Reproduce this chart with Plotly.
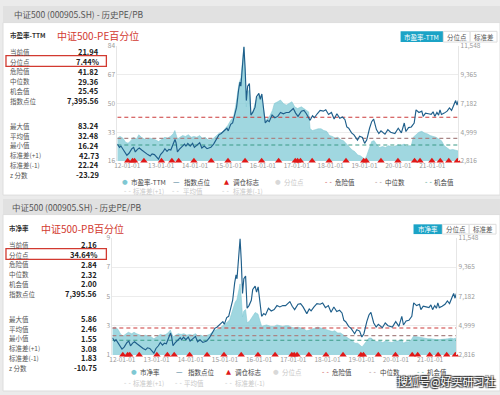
import plotly.graph_objects as go

# ---------------- data ----------------
idx_dates = ["2011-09-16","2011-10-10","2011-10-25","2011-11-15","2011-12-10","2011-12-28",
"2012-01-20","2012-02-20","2012-03-10","2012-03-28","2012-04-20","2012-05-10","2012-06-05","2012-07-10",
"2012-08-10","2012-09-05","2012-09-25","2012-10-20","2012-11-15","2012-12-03","2012-12-25",
"2013-01-20","2013-02-10","2013-03-05","2013-03-25","2013-04-15","2013-05-10","2013-05-30","2013-06-10",
"2013-06-25","2013-07-15","2013-08-10","2013-09-10","2013-09-25","2013-10-15","2013-11-10","2013-12-05","2013-12-25",
"2014-01-20","2014-02-20","2014-03-15","2014-04-10","2014-05-10","2014-05-25","2014-06-20","2014-07-20",
"2014-08-20","2014-09-15","2014-10-10","2014-11-10","2014-12-10","2014-12-25",
"2015-01-20","2015-02-10","2015-03-05","2015-03-25","2015-04-15","2015-04-30","2015-05-10","2015-05-25",
"2015-06-12","2015-06-25","2015-07-08","2015-07-22","2015-08-10","2015-08-26","2015-09-15","2015-10-10",
"2015-10-25","2015-11-20","2015-12-05","2015-12-22",
"2016-01-15","2016-01-28","2016-02-20","2016-03-10","2016-04-10","2016-05-10","2016-06-10","2016-07-10",
"2016-08-10","2016-09-10","2016-10-10","2016-11-10","2016-11-25","2016-12-20",
"2017-01-15","2017-02-20","2017-03-20","2017-04-15","2017-05-10","2017-05-25","2017-06-20","2017-07-10",
"2017-08-10","2017-09-10","2017-10-15","2017-11-10","2017-12-10",
"2018-01-10","2018-02-08","2018-03-10","2018-04-10","2018-05-10","2018-06-05","2018-06-25","2018-07-15",
"2018-08-15","2018-09-10","2018-10-18","2018-11-10","2018-12-10",
"2019-01-03","2019-01-25","2019-02-25","2019-03-20","2019-04-10","2019-05-10","2019-06-05","2019-06-28",
"2019-08-10","2019-09-10","2019-10-10","2019-11-25","2019-12-31",
"2020-02-03","2020-03-05","2020-03-23","2020-04-20","2020-05-20","2020-06-20","2020-07-10","2020-08-10",
"2020-09-10","2020-09-25","2020-10-20","2020-11-20","2020-12-20",
"2021-01-10","2021-01-28","2021-02-20","2021-03-10","2021-03-25","2021-04-10","2021-05-10","2021-06-10",
"2021-07-05","2021-07-28","2021-08-20","2021-09-10","2021-09-25","2021-10-08"]
idx_values = [4100,3850,3950,3700,3400,3250,
3400,3750,3850,3500,3700,3800,3650,3450,
3300,3200,3350,3300,3100,2950,3300,
3500,3750,3550,3700,3650,4100,4450,4200,
3500,3700,3850,4100,3950,4150,3950,4150,3850,
4000,4200,3800,3950,3750,3800,3850,4100,
4450,4800,4900,5100,5300,5100,
5600,5700,6300,6900,8200,8800,8500,10200,
11480,9800,7400,8500,8700,6300,6500,6900,
7700,7950,7500,7900,
6300,5700,5900,5800,6300,6100,6200,6500,
6400,6500,6500,6700,6800,6450,
6200,6600,6650,6400,6000,5900,6250,6100,
6400,6650,6600,6700,6350,
6500,6000,6400,6050,6150,5950,5400,5300,
4950,4800,4400,4700,4600,
4150,4400,5300,5800,6000,5200,4900,5100,
4850,5200,5000,4900,5300,
4950,5700,5050,5350,5400,5700,6700,6500,
6600,6200,6450,6400,6350,
6550,6200,6500,6300,6700,6350,6450,6600,
6850,6650,7050,7400,7050,7395.56]

val_dates = ["2011-09-16","2011-10-15","2011-11-15","2011-12-15",
"2012-01-10","2012-02-10","2012-03-05","2012-04-10","2012-05-05","2012-06-01","2012-07-01","2012-08-01",
"2012-09-01","2012-10-01","2012-11-01","2012-12-03",
"2013-01-01","2013-02-10","2013-03-10","2013-04-10","2013-05-10","2013-05-28","2013-06-25","2013-07-20",
"2013-08-20","2013-09-20","2013-10-20","2013-11-20","2013-12-20",
"2014-01-20","2014-02-20","2014-03-20","2014-04-20","2014-05-20","2014-06-20","2014-07-20","2014-08-20",
"2014-09-20","2014-10-20","2014-11-20","2014-12-20",
"2015-01-20","2015-02-20","2015-03-20","2015-04-20","2015-05-10","2015-05-25","2015-06-12","2015-06-25",
"2015-07-08","2015-07-22","2015-08-10","2015-08-26","2015-09-20","2015-10-20","2015-11-20","2015-12-20",
"2016-01-15","2016-01-28","2016-02-20","2016-03-20","2016-04-15","2016-05-05","2016-06-10","2016-07-10",
"2016-08-10","2016-09-10","2016-10-10","2016-11-10","2016-12-10",
"2017-01-10","2017-02-20","2017-03-20","2017-04-20","2017-05-10","2017-05-25","2017-06-20","2017-07-20",
"2017-08-20","2017-09-20","2017-10-20","2017-11-20","2017-12-20",
"2018-01-20","2018-02-20","2018-03-20","2018-04-20","2018-05-20","2018-06-20","2018-07-20","2018-08-20",
"2018-09-20","2018-10-20","2018-11-20","2018-12-20",
"2019-01-05","2019-01-25","2019-02-25","2019-03-20","2019-04-15","2019-05-15","2019-06-15","2019-07-15",
"2019-08-15","2019-09-15","2019-10-15","2019-11-15","2019-12-31",
"2020-01-20","2020-03-05","2020-03-23","2020-04-20","2020-05-20","2020-06-10","2020-07-10","2020-08-10",
"2020-09-10","2020-10-10","2020-11-10","2020-12-10",
"2021-01-10","2021-02-10","2021-03-10","2021-04-10","2021-05-10","2021-06-10","2021-07-10","2021-08-10",
"2021-09-10","2021-10-08"]
pe_values = [29.5,30.5,29.5,27,
26.5,28,30,29,31.5,30,29,28.5,
29.5,29,28.5,27.5,
28.5,30,29.5,30.5,32,34,29,30,
31,30.5,31.5,30,30.5,
30,31,29.5,30,28.5,28.5,29.5,31,
32.5,33,35,37,
40,42,50,62,65,75,83.24,68,
48,57,58,44,46,52,55,54,
44,39.5,41,43,46,50,51,52,
50,49,50,51,48,
47,48,47,46,45,35,34,34.5,
35,35,34,33.5,31,
30.5,29.5,30,28.5,28,26,24.5,22.5,
21.5,19.5,19,17.5,
17,19,24,27.5,28,25.5,24,24.5,
24,25,24.5,24.5,25.5,
25,26,24.5,25,25,30,31.5,33,
33.5,32.5,32,31,
30.5,30,29,28,25,23.5,22.5,22.8,
22.3,21.94]
pb_values = [2.85,2.9,2.75,2.4,
2.3,2.45,2.55,2.45,2.55,2.45,2.35,2.3,
2.35,2.3,2.25,2.1,
2.25,2.4,2.35,2.4,2.55,2.7,2.25,2.35,
2.45,2.4,2.45,2.35,2.4,
2.35,2.45,2.3,2.35,2.25,2.3,2.4,2.55,
2.7,2.75,2.9,3.0,
3.2,3.4,3.9,4.6,4.8,5.3,5.86,4.9,
3.6,4.0,4.1,3.2,3.3,3.6,3.9,3.8,
3.2,2.95,3.0,3.05,3.0,2.95,2.95,3.05,
3.0,2.95,3.0,3.0,2.9,
2.85,2.9,2.85,2.8,2.7,2.65,2.7,2.75,
2.85,2.9,2.85,2.8,2.7,
2.7,2.6,2.65,2.5,2.5,2.35,2.25,2.1,
2.0,1.8,1.8,1.65,
1.55,1.7,2.0,2.15,2.15,1.95,1.9,1.95,
1.85,1.95,1.9,1.85,1.95,
1.95,2.05,1.8,1.9,1.9,2.0,2.3,2.25,
2.2,2.2,2.15,2.1,
2.1,2.05,2.05,2.05,2.05,2.1,2.1,2.15,
2.1,2.16]

rebalance_dates = ["2012-01-06","2012-02-27","2012-03-20","2012-06-29","2013-01-04","2013-04-26","2013-07-08",
"2013-12-20","2014-06-24","2014-12-22","2015-06-24","2015-12-20","2016-06-20","2016-12-16","2017-01-10",
"2017-02-10","2017-06-16","2017-12-16","2018-06-16","2018-12-24","2019-01-20","2019-06-28","2019-12-28",
"2020-06-24","2020-08-22","2020-12-28","2021-03-28","2021-06-28","2021-09-28"]

pe_lines = {"危险值": 41.82, "中位数": 29.36, "机会值": 25.45}
pb_lines = {"危险值": 2.84, "中位数": 2.32, "机会值": 2.00}

pe_stats_top = [("当前值","21.94"),("分位点","7.44%"),("危险值","41.82"),("中位数","29.36"),("机会值","25.45"),("指数点位","7,395.56")]
pe_stats_bot = [("最大值","83.24"),("平均值","32.48"),("最小值","16.24"),("标准差(+1)","42.73"),("标准差(-1)","22.24"),("z 分数","-23.29")]
pb_stats_top = [("当前值","2.16"),("分位点","34.64%"),("危险值","2.84"),("中位数","2.32"),("机会值","2.00"),("指数点位","7,395.56")]
pb_stats_bot = [("最大值","5.86"),("平均值","2.46"),("最小值","1.55"),("标准差(+1)","3.08"),("标准差(-1)","1.83"),("z 分数","-10.75")]

pe_ticks = [16, 33, 50, 67, 84]
pb_ticks = [1, 3, 5, 7, 9]
idx_ticks = [2816, 4999, 7182, 9365, 11548]
year_ticks = ["%d-01-01" % y for y in range(2012, 2022)]
x_range = ["2011-09-16", "2021-10-08"]

# ---------------- styling ----------------
W, H = 500, 395
FONT = "Noto Sans CJK SC"
FILL = "rgba(128,202,213,0.75)"
AREA_LINE = "#86cbd5"
IDX_COLOR = "#1f5f8b"
RED = "#cc3b3b"
MED = "#a98585"
OPP = "#3b9a86"
TEAL_BTN = "#1ba3c6"

def X(px):
    return px / W

def Y(py):
    return 1 - py / H

fig = go.Figure()

panels = [
    dict(xa="x", ya="y", ya2="y2", vals=pe_values, rng=[16, 84], lines=pe_lines),
    dict(xa="x2", ya="y3", ya2="y4", vals=pb_values, rng=[1, 9], lines=pb_lines),
]

for p in panels:
    fig.add_trace(go.Scatter(x=val_dates, y=p["vals"], xaxis=p["xa"], yaxis=p["ya"], mode="lines",
                             fill="tozeroy", fillcolor=FILL, line=dict(color=AREA_LINE, width=0.6),
                             showlegend=False, hoverinfo="skip"))
    for (nm, v), col in zip(p["lines"].items(), [RED, MED, OPP]):
        fig.add_trace(go.Scatter(x=x_range, y=[v, v], xaxis=p["xa"], yaxis=p["ya"], mode="lines",
                                 line=dict(color=col, width=1.1, dash="4px,3px"), showlegend=False))
    fig.add_trace(go.Scatter(x=rebalance_dates, y=[p["rng"][0]] * len(rebalance_dates), xaxis=p["xa"],
                             yaxis=p["ya"], mode="markers", cliponaxis=False,
                             marker=dict(symbol="triangle-up", size=6.5, color="#e01818"), showlegend=False))
    fig.add_trace(go.Scatter(x=idx_dates, y=idx_values, xaxis=p["xa"], yaxis=p["ya2"], mode="lines",
                             line=dict(color=IDX_COLOR, width=1.15), showlegend=False))

tickfont = dict(family=FONT, size=6.5, color="#9a9a9a")
common_x = dict(type="date", range=x_range, tickvals=year_ticks, tickformat="%y-%m-%d", showgrid=False,
                zeroline=False, showline=False, ticks="", tickfont=tickfont)
common_y = dict(showgrid=True, gridcolor="#ececec", gridwidth=1, zeroline=False, ticks="", tickfont=tickfont,
                showline=True, linecolor="#e6e6e6", linewidth=1)
right_y = dict(side="right", range=[2816, 11548], tickvals=idx_ticks, tickformat=",d", showgrid=False,
               zeroline=False, ticks="", tickfont=tickfont, showline=True, linecolor="#e6e6e6")

fig.update_layout(
    width=W, height=H, margin=dict(l=0, r=0, t=0, b=0),
    paper_bgcolor="#ebebeb", plot_bgcolor="rgba(0,0,0,0)",
    showlegend=False, separators=".,",
    font=dict(family=FONT),
    xaxis=dict(domain=[X(115), X(458)], anchor="y", **common_x),
    yaxis=dict(domain=[Y(159), Y(41)], anchor="x", range=[16, 84], tickvals=pe_ticks, **common_y),
    yaxis2=dict(overlaying="y", anchor="x", **right_y),
    xaxis2=dict(domain=[X(110), X(456)], anchor="y3", **common_x),
    yaxis3=dict(domain=[Y(358), Y(238)], anchor="x2", range=[1, 9], tickvals=pb_ticks, **common_y),
    yaxis4=dict(overlaying="y3", anchor="x2", **right_y),
)

shapes = []
ann = []

def rect(x0, y0, x1, y1, fill, line=None, lw=0):
    shapes.append(dict(type="rect", xref="paper", yref="paper", x0=X(x0), x1=X(x1), y0=Y(y1), y1=Y(y0),
                       fillcolor=fill, line=dict(color=line or fill, width=lw), layer="below"))

def text(px, py, s, size=8, color="#333", anchor="left", bold=False, family=FONT):
    if bold:
        s = "<b>%s</b>" % s
    ann.append(dict(x=X(px), y=Y(py), xref="paper", yref="paper", text=s, showarrow=False,
                    xanchor=anchor, yanchor="middle", borderpad=0,
                    font=dict(size=size, color=color, family=family)))

# panel backgrounds & headers
rect(0, 0, 500, 17, "#e1e1e1")
rect(0, 17, 500, 194, "#ffffff", "#dddddd", 1)
rect(0, 198, 500, 214, "#e1e1e1")
rect(0, 214, 500, 395, "#ffffff", "#dddddd", 1)
text(10, 8.5, "中证500 (000905.SH) - 历史PE/PB", 8.5, "#555")
text(8, 206, "中证500 (000905.SH) - 历史PE/PB", 8.5, "#555")

# left stat tables
def table(title, ttl_x, ttl_y, red_title, red_x, red_y, rows_top, rows_bot, y_top, y_bot, lab_x, val_x, box):
    text(ttl_x, ttl_y, title, 6.5, "#333", bold=True)
    text(red_x, red_y, red_title, 10, "#d23a30")
    for i, (lab, val) in enumerate(rows_top):
        yy = y_top + i * 10
        text(lab_x, yy, lab, 6.5, "#555")
        text(val_x, yy, val, 7.5, "#222", anchor="right", bold=True)
    for i, (lab, val) in enumerate(rows_bot):
        yy = y_bot + i * 10
        text(lab_x, yy, lab, 6.5, "#555")
        text(val_x, yy, val, 7.5, "#222", anchor="right", bold=True)
    shapes.append(dict(type="rect", xref="paper", yref="paper", x0=X(box[0]), x1=X(box[2]),
                       y0=Y(box[3]), y1=Y(box[1]), line=dict(color="#d23a30", width=1.3)))

table("市盈率-TTM", 6, 30, "中证500-PE百分位", 53, 30.5, pe_stats_top, pe_stats_bot, 47, 123, 6, 98, (3, 51, 104, 62))
table("市净率", 5, 228, "中证500-PB百分位", 37, 228.5, pb_stats_top, pb_stats_bot, 245, 321, 5, 96, (3, 249, 104, 260))

# toggle buttons
def buttons(first, y0, y1, xs):
    labels = [first, "分位点", "标准差"]
    for i, lab in enumerate(labels):
        x0, x1 = xs[i], xs[i + 1]
        if i == 0:
            rect(x0, y0, x1, y1, TEAL_BTN)
            col = "#ffffff"
        else:
            shapes.append(dict(type="rect", xref="paper", yref="paper", x0=X(x0), x1=X(x1), y0=Y(y1), y1=Y(y0),
                               fillcolor="#ffffff", line=dict(color="#dddddd", width=1)))
            col = "#555"
        text((x0 + x1) / 2, (y0 + y1) / 2, lab, 6.5, col, anchor="center")

buttons("市盈率-TTM", 26, 37, [400, 443, 470, 497])
buttons("市净率", 224, 234, [413, 442, 469, 496])

# legends (drawn as text)
def legend(items, row_y):
    for (sx, sym, scol, tx, lab, tcol) in items:
        text(sx, row_y, sym, 6.5, scol, anchor="center", family="DejaVu Sans")
        text(tx, row_y, lab, 6.5, tcol)

G = "#c8c8c8"
legend([(123, "●", "#7fc8d3", 128, "市盈率-TTM", "#444"),
        (175, "—", IDX_COLOR, 181, "指数点位", "#444"),
        (225, "▲", "#e01818", 230, "调仓标志", "#444"),
        (277, "●", "#d8d8d8", 282, "分位点", G),
        (327, "- -", RED, 333, "危险值", "#444"),
        (378, "- -", MED, 383, "中位数", "#444"),
        (428, "- -", OPP, 433, "机会值", "#444")], 181)
legend([(125, "- -", G, 130, "标准差(+1)", G),
        (174, "- -", G, 180, "平均值", G),
        (224, "- -", G, 230, "标准差(-1)", G)], 190)

legend([(132, "●", "#7fc8d3", 137, "市净率", "#444"),
        (178, "—", IDX_COLOR, 185, "指数点位", "#444"),
        (227, "▲", "#e01818", 232, "调仓标志", "#444"),
        (275, "●", "#d8d8d8", 280, "分位点", G),
        (324, "- -", RED, 330, "危险值", "#444"),
        (372, "- -", MED, 378, "中位数", "#444"),
        (420, "- -", OPP, 426, "机会值", "#444")], 376)
legend([(125, "- -", G, 130, "标准差(+1)", G),
        (177, "- -", G, 181, "平均值", G),
        (227, "- -", G, 232, "标准差(-1)", G)], 387)

# watermark
ann.append(dict(x=X(446), y=Y(385), xref="paper", yref="paper", text="搜狐号@好买研习社", showarrow=False,
                xanchor="center", yanchor="middle", borderpad=0,
                font=dict(size=11, color="#ffffff", family=FONT,
                          shadow="1px 1px 1px #333, -1px -1px 1px #333, 1px -1px 1px #333, -1px 1px 1px #333")))

fig.update_layout(shapes=shapes, annotations=ann)
fig.write_html("out.html", config={"displayModeBar": False},
               post_script="document.body.style.margin='0';document.body.style.padding='0';")
